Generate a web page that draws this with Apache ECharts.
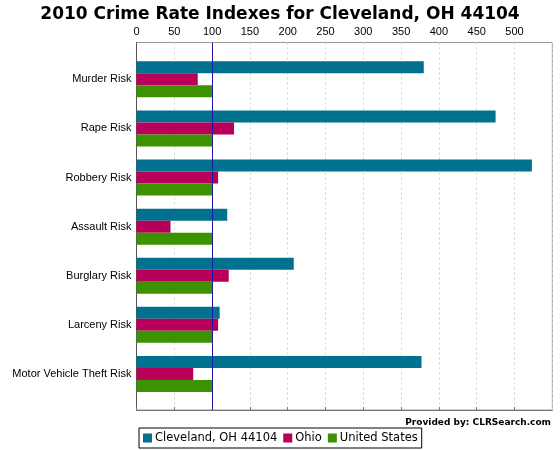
<!DOCTYPE html>
<html>
<head>
<meta charset="utf-8">
<script src="https://cdn.jsdelivr.net/npm/echarts@6/dist/echarts.min.js"></script>
<style>
  html, body { margin: 0; padding: 0; background: #fff; }
  #chart { width: 560px; height: 450px; }
</style>
</head>
<body>
<div id="chart"></div>
<script>
// crime categories, top to bottom
const categories = ['Murder Risk', 'Rape Risk', 'Robbery Risk', 'Assault Risk', 'Burglary Risk', 'Larceny Risk', 'Motor Vehicle Theft Risk'];
const cleveland = [380, 475, 523, 120, 208, 110, 377];
const ohio = [81, 129, 108, 45, 122, 108, 75];
const unitedStates = [100, 100, 100, 100, 100, 100, 100];
const seriesNames = ['Cleveland, OH 44104', 'Ohio', 'United States'];
const colors = ['#00718f', '#b8005a', '#3d9200'];

const chart = echarts.init(document.getElementById('chart'));
const labelFont = 'Liberation Sans, Arial, sans-serif';

const barSeries = [cleveland, ohio, unitedStates].map((vals, i) => ({
  name: seriesNames[i],
  type: 'bar',
  xAxisIndex: 1,
  yAxisIndex: 1,
  data: vals,
  barWidth: 12,
  barGap: '0%',
  itemStyle: { color: colors[i] }
}));

const option = {
  animation: false,
  title: [
    {
      text: '2010 Crime Rate Indexes for Cleveland, OH 44104',
      left: 'center',
      top: 1,
      textStyle: { fontFamily: 'DejaVu Sans', fontWeight: 'bold', fontSize: 17, color: '#000' }
    },
    {
      text: 'Provided by: CLRSearch.com',
      right: 4,
      top: 413,
      textStyle: { fontFamily: 'DejaVu Sans', fontWeight: 'bold', fontSize: 9, color: '#000' }
    }
  ],
  legend: {
    data: seriesNames,
    left: 139,
    top: 428,
    orient: 'horizontal',
    icon: 'rect',
    itemWidth: 9,
    itemHeight: 9,
    itemGap: 6,
    padding: [4, 4],
    borderColor: '#000',
    borderWidth: 1,
    textStyle: { fontFamily: 'DejaVu Sans', fontSize: 11.5, color: '#000', padding: [0, 0, 0, -2] }
  },
  grid: [
    // frame
    { left: 136.5, right: 7.7, top: 42.5, bottom: 40, show: true, borderColor: '#999', borderWidth: 1 },
    // bars
    { left: 136.5, right: 7.7, top: 54.75, bottom: 51.5 }
  ],
  xAxis: [
    {
      gridIndex: 0,
      type: 'value',
      position: 'top',
      min: 0,
      max: 550,
      interval: 50,
      axisLine: { show: true, lineStyle: { color: '#777' } },
      axisTick: { show: true, length: 3, lineStyle: { color: '#777' } },
      axisLabel: { showMaxLabel: false, fontFamily: labelFont, fontSize: 11, color: '#000', margin: 5 },
      splitLine: { show: true, lineStyle: { color: '#d0d0d0', type: [2, 3] } }
    },
    { gridIndex: 1, type: 'value', min: 0, max: 550, show: false }
  ],
  yAxis: [
    {
      gridIndex: 0,
      type: 'value',
      min: 0,
      max: 1,
      axisLine: { show: true, lineStyle: { color: '#555' } },
      axisTick: { show: false },
      axisLabel: { show: false },
      splitLine: { show: false }
    },
    {
      gridIndex: 1,
      type: 'category',
      inverse: true,
      data: categories,
      axisLine: { show: false },
      axisTick: { show: false },
      axisLabel: { fontFamily: labelFont, fontSize: 11, color: '#000', margin: 5 }
    }
  ],
  series: [
    ...barSeries,
    {
      // reference line at the national index
      type: 'line',
      xAxisIndex: 0,
      yAxisIndex: 0,
      data: [],
      markLine: {
        silent: true,
        symbol: 'none',
        label: { show: false },
        lineStyle: { color: '#1a1aa0', type: 'solid', width: 1 },
        data: [{ xAxis: 100 }]
      }
    }
  ]
};

chart.setOption(option);
</script>
</body>
</html>
